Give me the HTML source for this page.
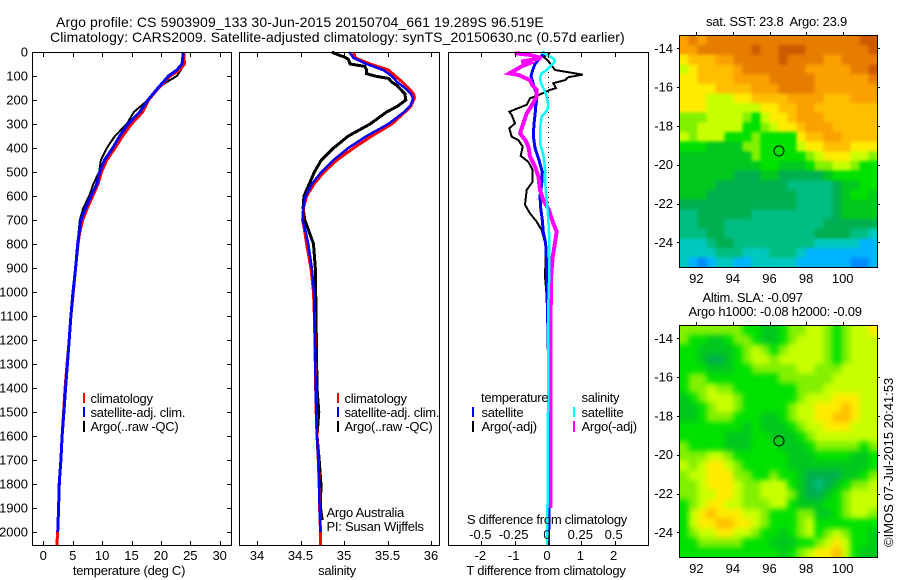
<!DOCTYPE html>
<html>
<head>
<meta charset="utf-8">
<title>Argo profile</title>
<style>
html,body{margin:0;padding:0;background:#fff;width:900px;height:580px;overflow:hidden}
svg{display:block}
text{font-family:"Liberation Sans",sans-serif;font-size:13px;fill:#000;letter-spacing:-.25px}
text.n{letter-spacing:0}
text.t{font-size:14px;letter-spacing:.09px}
.m{text-anchor:middle}
.e{text-anchor:end}
.fr{fill:none;stroke:#000;stroke-width:1;shape-rendering:crispEdges}
.tk{stroke:#000;stroke-width:1;shape-rendering:crispEdges}
.cv{fill:none;stroke-linejoin:miter;shape-rendering:crispEdges}
.bar{stroke-width:2;shape-rendering:crispEdges}
</style>
</head>
<body>
<svg id="fig" width="900" height="580" viewBox="0 0 900 580" xmlns="http://www.w3.org/2000/svg">
<defs>
<filter id="blurSst" filterUnits="userSpaceOnUse" x="640" y="0" width="260" height="300" color-interpolation-filters="sRGB"><feGaussianBlur stdDeviation="1.5"/></filter>
<filter id="blurSla" filterUnits="userSpaceOnUse" x="640" y="290" width="260" height="290" color-interpolation-filters="sRGB"><feGaussianBlur stdDeviation="3"/></filter>
<clipPath id="clipSst"><rect x="680" y="36" width="198" height="232"/></clipPath>
<clipPath id="clipSla"><rect x="680" y="326" width="198" height="232"/></clipPath>
</defs>
<rect width="900" height="580" fill="#fff"/>
<text class="t" x="56" y="27" style="letter-spacing:.11px">Argo profile: CS 5903909_133 30-Jun-2015 20150704_661 19.289S 96.519E</text>
<text class="t" x="50" y="42" style="letter-spacing:.085px">Climatology: CARS2009. Satellite-adjusted climatology: synTS_20150630.nc (0.57d earlier)</text>

<g id="p1"></g>
<g id="p2"></g>
<g id="p3"></g>
<g id="m1"></g>
<g id="m2"></g>

<text class="m" x="129" y="575">temperature (deg C)</text>
<text class="m" x="337" y="575">salinity</text>
<text class="m" x="546" y="575">T difference from climatology</text>
<text class="m" x="547" y="524">S difference from climatology</text>

<g>
<line class="bar" x1="84" x2="84" y1="393" y2="403" stroke="#f00"/>
<line class="bar" x1="84" x2="84" y1="407" y2="417" stroke="#00f"/>
<line class="bar" x1="84" x2="84" y1="421" y2="432" stroke="#000"/>
<text x="90.5" y="403">climatology</text>
<text x="90.5" y="417">satellite-adj. clim.</text>
<text x="90.5" y="431">Argo(..raw -QC)</text>
</g>
<g>
<line class="bar" x1="338" x2="338" y1="393" y2="403" stroke="#f00"/>
<line class="bar" x1="338" x2="338" y1="407" y2="417" stroke="#00f"/>
<line class="bar" x1="338" x2="338" y1="421" y2="432" stroke="#000"/>
<text x="344.5" y="403">climatology</text>
<text x="344.5" y="417">satellite-adj. clim.</text>
<text x="344.5" y="431">Argo(..raw -QC)</text>
<text x="326.5" y="517">Argo Australia</text>
<text x="326.5" y="531">PI: Susan Wijffels</text>
</g>
<g>
<text x="481" y="402">temperature</text>
<line class="bar" x1="473" x2="473" y1="407" y2="417" stroke="#00f"/>
<line class="bar" x1="473" x2="473" y1="421" y2="432" stroke="#000"/>
<text x="481.5" y="417">satellite</text>
<text x="481.5" y="431">Argo(-adj)</text>
<text x="581.5" y="402">salinity</text>
<line class="bar" x1="574" x2="574" y1="407" y2="417" stroke="#0ff"/>
<line class="bar" x1="574" x2="574" y1="421" y2="432" stroke="#f0f"/>
<text x="581.5" y="417">satellite</text>
<text x="581.5" y="431">Argo(-adj)</text>
</g>

<text class="m" x="776.5" y="26" xml:space="preserve">sat. SST: 23.8  Argo: 23.9</text>
<text x="702.5" y="302">Altim. SLA: -0.097</text>
<text x="688.5" y="316">Argo h1000: -0.08 h2000: -0.09</text>
<text class="n" transform="translate(893,547) rotate(-90)">©IMOS 07-Jul-2015 20:41:53</text>
</svg>
<script>
// ---- chart data ----
const depthTicks = [0,100,200,300,400,500,600,700,800,900,1000,1100,1200,1300,1400,1500,1600,1700,1800,1900,2000];
const tempTicks = [0,5,10,15,20,25,30];
const salTicks = [34,34.5,35,35.5,36];
const salTickLabels = ['34','34.5','35','35.5','36'];
const tDiffTicks = [-2,-1,0,1,2];
const sDiffTicks = [-0.5,-0.25,0,0.25,0.5];
const sDiffLabels = ['-0.5','-0.25','0','0.25','0.5'];
const lonTicks = [92,94,96,98,100];
const latTicks = [-14,-16,-18,-20,-22,-24];

const tempDepth = [0,50,75,100,125,150,200,250,300,350,400,450,500,550,600,650,700,750,800,900,1000,1100,1200,1300,1400,1500,1600,1700,1800,1900,2000,2055];
const tempClim = [23.9,24.0,23.2,21.6,20.6,19.6,17.9,16.9,15.0,13.5,12.2,10.8,9.9,9.3,8.4,7.5,6.7,6.2,5.9,5.5,5.1,4.7,4.4,4.05,3.7,3.45,3.2,3.0,2.7,2.6,2.45,2.3];
const tempSat = [23.8,23.6,22.7,21.3,20.4,19.5,17.8,16.4,14.4,13.0,11.8,10.4,9.6,9.1,8.1,7.2,6.4,6.1,5.85,5.5,5.05,4.7,4.4,4.1,3.8,3.5,3.2,3.0,2.7,2.6,2.45];
const tempArgo = [23.8,23.9,23.4,22.7,21.0,19.5,17.8,15.4,14.2,12.2,10.8,9.8,9.5,8.5,7.8,6.8,6.2,6.0,5.8,5.5,5.05,4.7,4.4,4.1,3.8,3.55,3.2,3.05,2.8,2.55];

const salDepth = [0,25,50,75,100,125,150,175,190,200,225,250,300,350,400,450,500,550,600,650,700,750,800,900,1000,1100,1200,1300,1400,1500,1600,1700,1800,1900,2000,2055];
const salClim = [35.11,35.13,35.30,35.51,35.59,35.67,35.74,35.80,35.81,35.80,35.77,35.70,35.55,35.32,35.11,34.92,34.77,34.655,34.57,34.535,34.525,34.55,34.57,34.62,34.65,34.66,34.665,34.67,34.675,34.68,34.69,34.705,34.715,34.72,34.73,34.73];
const salSat = [35.06,35.11,35.26,35.45,35.55,35.61,35.70,35.77,35.79,35.79,35.76,35.69,35.51,35.26,35.05,34.88,34.74,34.63,34.56,34.53,34.525,34.56,34.59,34.63,34.655,34.66,34.665,34.67,34.675,34.68,34.69,34.705,34.715,34.72,34.73];
const salArgoDepth = [0,10,20,30,50,60,75,90,100,110,125,140,175,200,225,250,300,350,400,450,500,550,600,650,700,750,800,900,1000,1400,1500,1600,1700,1800,1900,1950];
const salArgo = [34.86,34.92,35.0,35.05,35.07,35.24,35.26,35.26,35.35,35.51,35.55,35.61,35.70,35.71,35.62,35.49,35.30,35.05,34.88,34.74,34.66,34.60,34.54,34.53,34.55,34.60,34.65,34.67,34.675,34.69,34.71,34.69,34.715,34.735,34.73,34.75];

const dtSatDepth = [0,25,50,75,100,125,150,175,200,225,250,300,350,400,450,500,550,600,650,700,750,800,900,1000,1200,1400,1600,1800,2000,2055];
const dtSat = [-0.09,-0.24,-0.39,-0.46,-0.51,-0.46,-0.41,-0.34,-0.34,-0.37,-0.38,-0.42,-0.44,-0.39,-0.27,-0.17,-0.19,-0.24,-0.22,-0.17,-0.14,-0.07,-0.04,-0.02,0,0.04,0.05,0.05,0.02,0.01];
const dtArgoDepth = [5,20,33,47,75,94,105,117,130,151,158,183,193,220,239,249,262,297,318,353,367,394,433,457,492,540,575,637,672,707,742,811,936,1000,1300,1640];
const dtArgo = [0.06,-0.14,-0.02,0.06,0.21,1.04,0.61,0.51,0.16,0.24,0.06,-0.34,-0.54,-0.64,-0.99,-1.16,-1.09,-0.99,-1.16,-1.09,-0.89,-0.76,-0.82,-0.59,-0.46,-0.46,-0.64,-0.69,-0.54,-0.34,-0.19,-0.06,-0.09,-0.05,0.04,0.07];
const dsSatDepth = [0,12,26,40,54,75,89,110,130,158,186,221,242,269,325,380,429,492,575,644,700,769,880,950,1100,1500,2055];
const dsSat = [-0.048,-0.01,0.04,0.052,0.028,-0.01,-0.048,-0.06,-0.052,-0.03,-0.01,0.002,-0.005,-0.048,-0.06,-0.06,-0.035,-0.022,-0.018,-0.005,0.002,0.01,0.008,0.008,0,0,-0.005];
const dsArgoDepth = [5,12,26,40,47,61,89,96,117,137,158,186,221,256,297,339,367,394,436,478,519,575,617,658,714,749,797,853,908,950,1100,1400,1700,1900];
const dsArgo = [-0.25,-0.135,-0.05,-0.2,-0.14,-0.2,-0.29,-0.22,-0.135,-0.12,-0.085,-0.085,-0.12,-0.16,-0.185,-0.21,-0.17,-0.147,-0.135,-0.097,-0.072,-0.06,-0.035,0.007,0.04,0.065,0.052,0.035,0.027,0.022,0.02,0.02,0.02,0.02];

const floatLon = 96.519;
const floatLat = -19.289;

const sstRows = [
[11,12,11,12,12,12,12,12,12,12,12,12,12,12,12,12,12,12,12,12,13,13],
[11,11,12,12,12,12,12,12,13,12,12,13,13,13,12,12,12,12,12,12,12,13],
[9,10,10,10,11,11,12,12,12,12,12,13,12,12,12,12,11,11,12,12,12,12],
[8,9,10,10,10,10,11,12,12,12,12,12,12,12,11,11,11,11,11,12,12,13],
[9,9,10,10,10,10,11,11,11,11,12,12,12,12,12,11,11,11,11,11,11,12],
[9,9,9,9,10,10,10,10,11,11,11,12,12,12,12,11,11,11,11,11,11,11],
[9,9,9,8,8,8,9,9,10,10,10,10,11,11,11,11,10,10,10,11,11,11],
[9,9,9,8,8,8,8,8,8,9,9,10,10,11,11,10,10,10,10,10,10,10],
[7,7,7,8,8,8,8,7,6,8,9,9,10,11,11,11,10,10,10,10,10,10],
[7,7,8,8,8,8,8,6,6,7,8,9,9,10,11,11,11,10,10,10,10,10],
[8,7,8,8,8,6,6,6,7,6,6,6,6,9,10,10,11,11,10,10,10,10],
[6,6,6,5,5,5,5,7,7,6,6,6,6,8,9,9,10,10,10,9,9,9],
[5,5,5,5,5,5,5,5,7,6,6,6,6,6,7,8,9,9,9,8,8,7],
[5,5,5,5,5,5,5,5,5,6,6,5,5,5,6,7,7,8,8,7,6,6],
[5,5,5,5,5,5,4,4,4,5,5,4,4,4,4,4,5,6,6,6,6,6],
[5,5,5,5,4,4,4,4,4,4,4,4,3,3,3,3,3,4,5,5,6,6],
[5,5,5,4,4,4,4,4,4,4,4,4,4,3,3,3,3,4,5,6,6,5],
[4,4,4,4,4,4,4,4,4,4,4,4,4,3,3,3,3,4,5,5,5,5],
[3,3,4,4,4,4,4,4,3,3,3,3,3,3,3,3,3,4,5,5,5,5],
[3,3,4,4,4,3,3,3,3,3,3,3,3,3,3,3,4,4,4,4,4,4],
[3,3,3,4,4,3,3,3,3,3,3,3,3,3,3,4,4,4,4,3,3,2],
[2,2,2,3,4,4,3,3,3,3,3,3,3,3,3,2,2,2,2,2,1,1],
[2,2,2,2,3,3,3,2,2,2,3,3,3,2,1,1,1,1,1,1,1,1],
[2,1,0,1,2,2,1,1,2,2,2,2,2,1,1,1,1,1,1,0,0,1]
];
const slaRows = [
[7,7,7,7,7,7,7,6,6,5,5,6,7,7,8,8,7,6,7,8,8,9],
[7,6,6,5,5,6,7,7,6,5,5,6,7,8,8,8,7,6,7,8,8,8],
[6,6,5,5,5,5,6,7,8,7,6,7,8,8,8,8,7,6,7,8,8,8],
[6,6,5,4,4,5,6,7,8,8,7,8,8,8,8,8,7,6,7,8,8,8],
[6,6,6,5,5,5,6,6,7,7,7,7,7,8,8,7,7,7,8,8,8,8],
[6,7,7,6,6,6,6,6,6,6,6,7,7,7,7,7,7,8,8,8,8,8],
[6,7,7,8,7,7,6,6,6,6,6,6,6,7,7,7,8,8,8,8,8,8],
[5,6,7,8,8,8,7,6,6,6,6,6,6,7,8,8,8,9,9,9,8,8],
[5,5,6,7,8,8,7,6,6,6,6,6,7,8,8,9,9,9,10,9,8,8],
[5,5,6,7,7,7,6,6,6,5,5,6,7,8,8,9,9,10,10,9,8,8],
[6,6,6,6,6,6,6,5,6,5,5,5,6,7,8,8,9,9,9,8,8,8],
[6,6,6,6,6,5,5,5,6,6,5,5,5,6,7,8,8,8,8,8,8,8],
[7,6,6,6,6,5,5,5,6,6,6,5,5,5,6,7,7,7,7,7,6,7],
[7,7,7,8,8,7,6,6,6,6,6,6,5,5,5,6,6,6,6,5,5,6],
[8,7,8,9,9,8,7,6,6,6,6,6,5,5,5,5,5,5,5,5,5,6],
[7,8,8,9,9,9,7,7,6,6,7,6,6,5,4,4,4,4,5,5,6,7],
[7,7,8,9,9,9,8,7,7,8,8,8,6,5,4,3,4,5,6,7,7,8],
[7,7,8,8,9,9,8,7,7,8,8,8,7,5,4,4,5,6,7,8,8,8],
[6,7,8,9,9,8,8,7,7,7,8,8,6,5,5,5,6,6,7,8,8,8],
[6,8,9,10,9,9,9,8,8,7,6,6,6,7,7,5,5,6,7,8,8,7],
[6,8,9,9,10,10,9,9,8,7,6,6,6,7,8,6,6,6,6,6,6,6],
[6,7,8,8,9,9,8,8,7,6,6,5,6,7,8,6,7,8,7,6,6,5],
[6,6,7,7,7,7,7,6,6,6,5,5,5,6,6,7,8,9,8,6,6,5],
[6,6,6,6,6,6,6,6,6,6,6,5,6,7,8,9,9,10,8,6,5,5]
];
const palette = ['#008cff','#00b4ff','#00c8be','#00be82','#00af50','#00c81e','#00e100','#82f000','#c8ff00','#ffeb00','#ffbe00','#faa000','#e67d00','#cd5a00'];

// ---- axis functions ----
const NS = 'http://www.w3.org/2000/svg';
const yDepth = d => 52 + 0.24 * d;
const xTemp = v => 43.3 + 5.88 * v;
const xSal = v => 257 + 87 * (v - 34);
const xDT = v => 548 + 33.33 * v;
const xDS = v => 548 + 133.3 * v;
const xLon = v => 696.3 + 18.3 * (v - 92);
const yLatTop = v => 48.3 + 19.4 * (-14 - v);
const lonMin = 91.07, lonMax = 101.89, latMax = -13.33, latMin = -25.29;

function mk(parent, tag, attrs, txt) {
  const el = document.createElementNS(NS, tag);
  for (const k in attrs) el.setAttribute(k, attrs[k]);
  if (txt !== undefined) el.textContent = txt;
  parent.appendChild(el);
  return el;
}
function curve(parent, depths, vals, xf, color, w, dash) {
  const pts = [];
  for (let i = 0; i < vals.length; i++) pts.push(xf(vals[i]).toFixed(1) + ',' + yDepth(depths[i]).toFixed(1));
  const a = {class: 'cv', points: pts.join(' '), stroke: color, 'stroke-width': w};
  if (dash) a['stroke-dasharray'] = dash;
  return mk(parent, 'polyline', a);
}
function frame(parent, x, y, w, h) {
  return mk(parent, 'rect', {class: 'fr', x: x, y: y, width: w, height: h});
}
function tick(parent, x1, y1, x2, y2) {
  return mk(parent, 'line', {class: 'tk', x1: x1, y1: y1, x2: x2, y2: y2});
}

// ---- temperature panel ----
const p1 = document.getElementById('p1');
let el;
el = curve(p1, tempDepth, tempArgo, xTemp, '#000', 2);


el = curve(p1, tempDepth, tempClim, xTemp, '#f00', 3);


el = curve(p1, tempDepth, tempSat, xTemp, '#00f', 3);


el = frame(p1, 32.5, 52.5, 199, 493);


depthTicks.forEach(d => {
  const y = Math.round(yDepth(d)) + 0.5;
  let e = tick(p1, 32, y, 37, y);
  
  
  e = tick(p1, 227, y, 232, y);
  
  
  e = mk(p1, 'text', {class: 'e n', x: 28, y: yDepth(d) + 4.5}, String(d));
  
  
});
tempTicks.forEach(v => {
  const x = Math.round(xTemp(v)) + 0.5;
  let e = tick(p1, x, 52, x, 57);
  
  
  e = tick(p1, x, 541, x, 546);
  
  
  e = mk(p1, 'text', {class: 'm n', x: xTemp(v), y: 560}, String(v));
  
  
});

// ---- salinity panel ----
const p2 = document.getElementById('p2');
el = curve(p2, salArgoDepth, salArgo, xSal, '#000', 3);


el = curve(p2, salDepth, salClim, xSal, '#f00', 3);


el = curve(p2, salDepth, salSat, xSal, '#00f', 2.5);


el = frame(p2, 239.5, 52.5, 200, 493);


salTicks.forEach((v, i) => {
  const x = Math.round(xSal(v)) + 0.5;
  let e = tick(p2, x, 52, x, 57);
  
  
  e = tick(p2, x, 541, x, 546);
  
  
  e = mk(p2, 'text', {class: 'm n', x: xSal(v), y: 560}, salTickLabels[i]);
  
  
});

// ---- difference panel ----
const p3 = document.getElementById('p3');
el = mk(p3, 'line', {x1: 548.5, x2: 548.5, y1: 52, y2: 545, stroke: '#000', 'stroke-width': 1, 'stroke-dasharray': '1 4', 'shape-rendering': 'crispEdges'});


el = curve(p3, dtArgoDepth, dtArgo, xDT, '#000', 2);


el = curve(p3, dtSatDepth, dtSat, xDT, '#00f', 3);


el = curve(p3, dsArgoDepth, dsArgo, xDS, '#f0f', 4);


el = curve(p3, dsSatDepth, dsSat, xDS, '#0ff', 2.5);


el = frame(p3, 448.5, 52.5, 200, 493);


tDiffTicks.forEach(v => {
  const x = Math.round(xDT(v)) + 0.5;
  let e = tick(p3, x, 52, x, 57);
  
  
  e = tick(p3, x, 541, x, 546);
  
  
  e = mk(p3, 'text', {class: 'm n', x: xDT(v) - 1, y: 560}, String(v));
  
  
});
sDiffTicks.forEach((v, i) => {
  const e = mk(p3, 'text', {class: 'm n', x: xDS(v) - 1, y: 539}, sDiffLabels[i]);
  
  
});

// ---- maps ----
function drawMap(g, rows, offsetY, filterId, clipId) {
  const nr = rows.length, nc = rows[0].length;
  const dLon = (lonMax - lonMin) / nc, dLat = (latMax - latMin) / nr;
  const cells = mk(g, 'g', {filter: 'url(#' + filterId + ')', 'clip-path': 'url(#' + clipId + ')'});
  
  
  for (let r = 0; r < nr; r++) {
    for (let c = 0; c < nc; c++) {
      let x0 = xLon(lonMin + c * dLon), x1 = xLon(lonMin + (c + 1) * dLon);
      let y0 = yLatTop(latMax - r * dLat) + offsetY, y1 = yLatTop(latMax - (r + 1) * dLat) + offsetY;
      // border cells bleed outward so the smoothing does not fade at the frame
      if (c === 0) x0 -= 16;
      if (c === nc - 1) x1 += 16;
      if (r === 0) y0 -= 16;
      if (r === nr - 1) y1 += 16;
      const cell = mk(cells, 'rect', {x: x0.toFixed(1), y: y0.toFixed(1), width: (x1 - x0 + 0.5).toFixed(1), height: (y1 - y0 + 0.5).toFixed(1), fill: palette[rows[r][c]], 'shape-rendering': 'crispEdges'});
      
      
    }
  }
  const f = frame(g, 679.5, 35.5 + offsetY, 198, 232);
  
  
  lonTicks.forEach(v => {
    const x = Math.round(xLon(v)) + 0.5;
    let e = tick(g, x, 32 + offsetY, x, 35 + offsetY);
    
    
    e = mk(g, 'text', {class: 'm n', x: xLon(v), y: 283 + offsetY}, String(v));
    
    
  });
  latTicks.forEach(v => {
    const y = Math.round(yLatTop(v) + offsetY) + 0.5;
    let e = tick(g, 677, y, 680, y);
    
    
    e = tick(g, 877, y, 880, y);
    
    
    e = mk(g, 'text', {class: 'e n', x: 673, y: yLatTop(v) + offsetY + 4.5}, String(v));
    
    
  });
  const mark = mk(g, 'circle', {cx: xLon(floatLon), cy: yLatTop(floatLat) + offsetY, r: 5, fill: 'none', stroke: '#000', 'stroke-width': 1});
  
  
}
drawMap(document.getElementById('m1'), sstRows, 0, 'blurSst', 'clipSst');
drawMap(document.getElementById('m2'), slaRows, 290, 'blurSla', 'clipSla');
</script>
</body>
</html>
